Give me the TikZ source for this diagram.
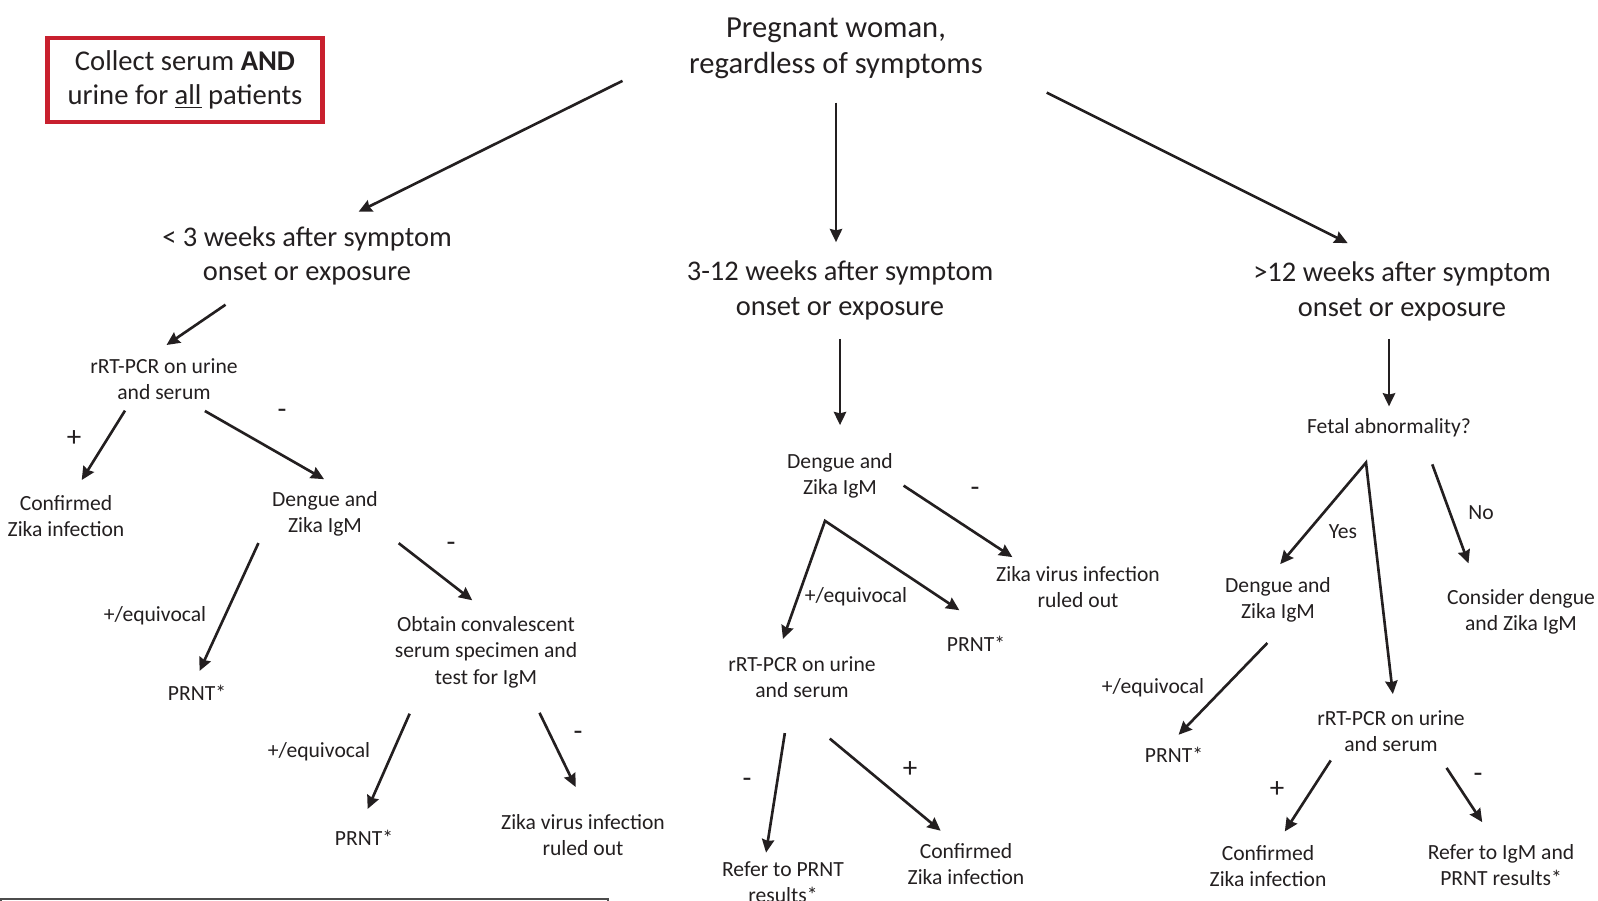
\documentclass[tikz,border=0pt]{standalone}
\usepackage{fontspec}
\setmainfont{Carlito}
\usetikzlibrary{arrows.meta}
\definecolor{boxred}{RGB}{200,32,46}
\definecolor{ink}{RGB}{35,31,32}
\tikzset{every node/.style={inner sep=0pt,align=center,text=ink}}
\tikzset{bigtxt/.style={font=\fontsize{17.4}{20.3}\selectfont}}
\tikzset{weektxt/.style={font=\fontsize{16.2}{19.7}\selectfont}}
\tikzset{smalltxt/.style={font=\fontsize{12.3}{15}\selectfont}}
\tikzset{signtxt/.style={font=\fontsize{16.5}{18}\selectfont}}
\tikzset{notebox/.style={draw=boxred,line width=2.8pt,minimum width=5.5cm,minimum height=1.68cm,
    font=\fontsize{16.3}{19.1}\selectfont}}
\tikzset{arr/.style={-{Stealth[length=7.5pt,width=7pt,inset=0.8pt]},line width=1.5pt,draw=ink}}
\tikzset{arrboth/.style={{Stealth[length=7.5pt,width=7pt,inset=0.8pt]}-{Stealth[length=7.5pt,width=7pt,inset=0.8pt]},line width=1.5pt,draw=ink}}

\begin{document}
\begin{tikzpicture}[x=0.02cm,y=-0.02cm]
    \useasboundingbox (0,0) rectangle (1598,901);
    \node[notebox] (note) at (185,80) {Collect serum \textbf{AND}\\urine for \underline{all} patients};
    \node[bigtxt] (top) at (836,48) {Pregnant woman,\\regardless of symptoms};
    \node[weektxt] (lt) at (307,256) {< 3 weeks after symptom\\onset or exposure};
    \node[weektxt] (mt) at (840,290.5) {3-12 weeks after symptom\\onset or exposure};
    \node[weektxt] (rt) at (1402,291.5) {>12 weeks after symptom\\onset or exposure};
    % < 3 weeks
    \node[smalltxt] (l1) at (164,379) {rRT-PCR on urine\\and serum};
    \node[smalltxt] (lc) at (66,516) {Confirmed\\Zika infection};
    \node[smalltxt] (ld) at (325,514) {Dengue and\\Zika IgM};
    \node[smalltxt] (lp1) at (197,693) {PRNT*};
    \node[smalltxt] (lo) at (486,652) {Obtain convalescent\\serum specimen and\\test for IgM};
    \node[smalltxt] (lp2) at (364,838) {PRNT*};
    \node[smalltxt] (lz) at (583,835) {Zika virus infection\\ruled out};
    \node[signtxt] (lpos) at (74,439) {+};
    \node[signtxt] (lneg) at (282,414) {-};
    \node[smalltxt] (leq1) at (155,616) {+/equivocal};
    \node[signtxt] (lneg2) at (451,547) {-};
    \node[smalltxt] (leq2) at (319,752) {+/equivocal};
    \node[signtxt] (lneg3) at (578,736) {-};
    % 3-12 weeks
    \node[smalltxt] (md) at (840,476) {Dengue and\\Zika IgM};
    \node[smalltxt] (mz) at (1078,587) {Zika virus infection\\ruled out};
    \node[smalltxt] (mp) at (976,644) {PRNT*};
    \node[smalltxt] (mr) at (802,677) {rRT-PCR on urine\\and serum};
    \node[smalltxt] (mref) at (783,882) {Refer to PRNT\\results*};
    \node[smalltxt] (mc) at (966,864) {Confirmed\\Zika infection};
    \node[signtxt] (mneg) at (975,492) {-};
    \node[smalltxt] (meq) at (856,597) {+/equivocal};
    \node[signtxt] (mneg2) at (747,783) {-};
    \node[signtxt] (mpos) at (910,770) {+};
    \coordinate (mfork) at ([shift={(-15,22)}]md.south);
    % > 12 weeks
    \node[smalltxt] (rf) at (1389,428) {Fetal abnormality?};
    \node[smalltxt] (rd) at (1278,600) {Dengue and\\Zika IgM};
    \node[smalltxt] (rcn) at (1521,612) {Consider dengue\\and Zika IgM};
    \node[smalltxt] (rp) at (1174,755) {PRNT*};
    \node[smalltxt] (rr) at (1391,731) {rRT-PCR on urine\\and serum};
    \node[smalltxt] (rc) at (1268,866) {Confirmed\\Zika infection};
    \node[smalltxt] (rref) at (1501,865) {Refer to IgM and\\PRNT results*};
    \node[smalltxt] (ryes) at (1343,532) {Yes};
    \node[smalltxt] (rno) at (1481,513) {No};
    \node[smalltxt] (req) at (1153,688) {+/equivocal};
    \node[signtxt] (rpos) at (1277,790) {+};
    \node[signtxt] (rneg) at (1478,778) {-};
    \coordinate (rfork) at ([shift={(-23,25)}]rf.south);

    \draw[arr,shorten <=1.48cm,shorten >=0.65cm] (top.west) -- (lt.53);
    \draw[arr,shorten <=0.48cm,shorten >=0.37cm] (top.south) -- (top.south |- mt.north);
    \draw[arr,shorten <=1.42cm,shorten >=0.83cm] (top.-5) -- (rt.120.5);

    \draw[arr,shorten <=0.67cm,shorten >=0.46cm] (lt.209) -- (l1.128.4);
    \draw[arr,shorten <=0.25cm,shorten >=0.35cm] (l1.213.2) -- (lc.73.4);
    \draw[arr,shorten <=0.44cm,shorten >=0.48cm] (l1.-44.1) -- (ld.49.4);
    \draw[arr,shorten <=0.64cm,shorten >=0.31cm] (ld.west) -- (lp1.116);
    \draw[arr,shorten <=0.52cm,shorten >=0.51cm] (ld.-14.1) -- (lo.80.5);
    \draw[arr,shorten <=0.56cm,shorten >=0.46cm] (lo.-151.7) -- (lp2.125.8);
    \draw[arr,shorten <=0.55cm,shorten >=0.6cm] (lo.-41.1) -- (lz.75);

    \draw[arr,shorten <=0.37cm,shorten >=0.56cm] (mt.south) -- (md.north);
    \draw[arr,shorten <=0.25cm,shorten >=0.32cm] (md.-3.3) -- (mz.158.5);
    \draw[arrboth,shorten <=0.36cm,shorten >=0.93cm] (mr.140.9) -- (mfork) -- (mp.20.9);
    \draw[arr,shorten <=0.71cm,shorten >=0.17cm] (mr.-119.8) -- (mref.131.3);
    \draw[arr,shorten <=1.27cm,shorten >=0.38cm] (mr.-135.5) -- (mc.117.9);

    \draw[arr,shorten <=0.35cm,shorten >=0.24cm] (rf.north |- rt.south) -- (rf.north);
    \draw[arrboth,shorten <=0.34cm,shorten >=0.32cm] (rd.111.2) -- (rfork) -- (rr.80.5);
    \draw[arr,shorten <=0.57cm,shorten >=0.55cm] (rf.-16.7) -- (rcn.152.6);
    \draw[arr,shorten <=0.56cm,shorten >=0.34cm] (rd.-69.2) -- (rp.132);
    \draw[arr,shorten <=0.2cm,shorten >=0.32cm] (rr.-159.4) -- (rc.69.2);
    \draw[arr,shorten <=0.38cm,shorten >=0.52cm] (rr.-25.4) -- (rref.102.2);

    \draw[black!70,line width=0.7pt] (1,899) rectangle (608,912);
\end{tikzpicture}
\end{document}
